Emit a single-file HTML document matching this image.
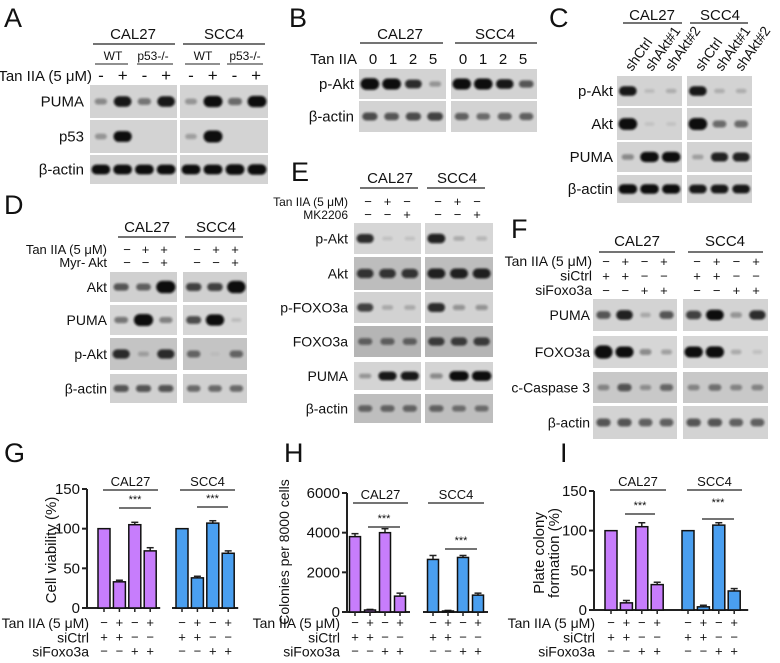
<!DOCTYPE html>
<html><head><meta charset="utf-8">
<style>
html,body{margin:0;padding:0;background:#fff;}
svg{display:block;font-family:"Liberation Sans",Arial,sans-serif;}
</style></head>
<body>
<svg id="fig" width="780" height="663" viewBox="0 0 780 663" xmlns="http://www.w3.org/2000/svg">
<defs><filter id="blur" x="-20%" y="-50%" width="140%" height="200%"><feGaussianBlur stdDeviation="1.1"/></filter></defs>
<g id="layer"></g>
</svg>
<script>
// ---------- chart data ----------
const gCal=[100,33,105,72];
const gCalErr=[0,2,3,4];
const gScc=[100,38,107,69];
const gSccErr=[0,2,3,3];
const hCal=[3800,100,4000,800];
const hCalErr=[150,30,200,150];
const hScc=[2650,50,2750,850];
const hSccErr=[200,30,100,100];
const iCal=[100,9,105,32];
const iCalErr=[0,3,5,3];
const iScc=[100,4,107,24];
const iSccErr=[0,2,3,3];
const gTicks=[0,50,100,150];
const hTicks=[0,2000,4000,6000];
const iTicks=[0,50,100,150];
const tanRow=['−','+','−','+'];
const siCtrlRow=['+','+','−','−'];
const siFoxoRow=['−','−','+','+'];
const cellLines=['CAL27','SCC4'];

const NS='http://www.w3.org/2000/svg';
const L=document.getElementById('layer');
function el(tag,attrs,parent){const e=document.createElementNS(NS,tag);for(const k in attrs)e.setAttribute(k,attrs[k]);(parent||L).appendChild(e);return e;}
function txt(x,y,s,size,anchor,name,extra){
  const t=el('text',Object.assign({x:x,y:y,'font-size':size,'text-anchor':anchor||'middle',fill:'#111'},extra||{}));
  t.textContent=s;
  
  
  return t;
}
function line(x1,y1,x2,y2,name,w){
  const l=el('line',{x1:x1,y1:y1,x2:x2,y2:y2,stroke:'#222','stroke-width':w||1.2});
  
  
  return l;
}
function letter(x,y,s){txt(x,y,s,27,'start','panel-label-'+s.toLowerCase());}

// ---------- blots ----------
function blot(name,x0,x1,rows){
  const n=rows.lanes[0].length;
  rows.y.forEach((yy,ri)=>{
    const g=el('g',{});
    
    
    const bg=(rows.bg&&rows.bg[ri])||'#d3d3d3';
    el('rect',{x:x0,y:yy[0],width:x1-x0,height:yy[1]-yy[0],fill:bg},g);
    const lw=(x1-x0)/n, cy=(yy[0]+yy[1])/2, rh=yy[1]-yy[0];
    rows.lanes[ri].forEach((v,i)=>{
      if(v<=0)return;
      const cx=x0+(i+0.5)*lw;
      const w=lw*0.82*Math.min(1.05,0.5+0.55*v);
      const h=rh*(0.1+0.24*Math.min(v,1.3));
      const b=el('rect',{x:cx-w/2,y:cy-h/2,width:w,height:h,rx:h/2,fill:'#0c0c0c',opacity:Math.min(1,v*1.05),filter:'url(#blur)'},g);
      
      
    });
  });
}
function rowLabels(x,rows,size){rows.y.forEach((yy,i)=>txt(x,(yy[0]+yy[1])/2+5,rows.labels[i],size||15,'end','row-label'));}

// Panel A
letter(4,27,'A');
txt(133,39,'CAL27',15,'middle','header-cal27');txt(224,39,'SCC4',15,'middle','header-scc4');
line(93,44,175,44,'header-line');line(183,44,265,44,'header-line');
[[113,95,128,'WT'],[153,137,173,'p53-/-'],[203,185,220,'WT'],[245,227,263,'p53-/-']].forEach(a=>{txt(a[0],60,a[3],12,'middle','genotype');line(a[1],64,a[2],64,'genotype-line',1);});
txt(92,81,'Tan IIA (5 μM)',15,'end','treatment-label');
['-','+','-','+'].forEach((s,i)=>{txt(101+i*21.7,81,s,17,'middle','sign');txt(191+i*21.7,81,s,17,'middle','sign');});
const aRows={y:[[85,118],[120,153],[155,184]],names:['puma','p53','actin'],labels:['PUMA','p53','β-actin']};
rowLabels(84,aRows);
blot('blot-a-cal27',90,177,Object.assign({lanes:[[0.35,0.9,0.45,0.9],[0.3,0.95,0,0],[1,1,1,1]]},aRows));
blot('blot-a-scc4',180,268,Object.assign({lanes:[[0.3,1,0.5,1],[0.25,1.1,0,0],[1,1,1.1,1.1]]},aRows));

// Panel B
letter(289,27,'B');
txt(400,39,'CAL27',15,'middle','header-cal27');txt(495,39,'SCC4',15,'middle','header-scc4');
line(360,43,443,43,'header-line');line(455,43,537,43,'header-line');
txt(357,64,'Tan IIA',15,'end','treatment-label');
['0','1','2','5'].forEach((s,i)=>{txt(373+i*20,64,s,15,'middle','dose');txt(463+i*20,64,s,15,'middle','dose');});
const bRows={y:[[69,99],[101,132]],names:['pakt','actin'],labels:['p-Akt','β-actin']};
rowLabels(354,bRows);
blot('blot-b-cal27',359,446,Object.assign({lanes:[[1.2,1.1,0.8,0.3],[0.65,0.6,0.65,0.7]]},bRows));
blot('blot-b-scc4',451,537,Object.assign({lanes:[[1.1,1.1,0.9,0.6],[0.55,0.5,0.55,0.55]]},bRows));

// Panel C
letter(549,27,'C');
txt(652,20,'CAL27',15,'middle','header-cal27');txt(720,20,'SCC4',15,'middle','header-scc4');
line(623,23,682,23,'header-line');line(690,23,748,23,'header-line');
['shCtrl','shAkt#1','shAkt#2'].forEach((s,i)=>{
  txt(632+i*20,72,s,14,'start','sh-label',{transform:'rotate(-55 '+(632+i*20)+' 72)'});
  txt(702+i*20,72,s,14,'start','sh-label',{transform:'rotate(-55 '+(702+i*20)+' 72)'});
});
const cRows={y:[[76,106],[108,140],[142,172],[175,203]],names:['pakt','akt','puma','actin'],labels:['p-Akt','Akt','PUMA','β-actin']};
rowLabels(613,cRows);
blot('blot-c-cal27',617,682,Object.assign({lanes:[[0.9,0.12,0.18],[1.1,0.08,0.08],[0.35,1,1],[1,1,0.95]]},cRows));
blot('blot-c-scc4',687,752,Object.assign({lanes:[[0.9,0.18,0.18],[1.15,0.5,0.5],[0.25,0.85,0.85],[0.9,0.9,0.9]]},cRows));

// Panel D
letter(4,214,'D');
txt(147,232,'CAL27',15,'middle','header-cal27');txt(216,232,'SCC4',15,'middle','header-scc4');
line(118,237,176,237,'header-line');line(185,237,243,237,'header-line');
txt(107,254,'Tan IIA (5 μM)',13,'end','treatment-label');txt(107,267,'Myr- Akt',13,'end','treatment-label');
[['−','+','+'],['−','−','+']].forEach((r,ri)=>r.forEach((s,i)=>{txt(127+i*18.5,254+ri*13,s,13,'middle','sign');txt(197+i*19,254+ri*13,s,13,'middle','sign');}));
const dRows={y:[[272,302],[305,335],[338,370],[374,403]],names:['akt','puma','pakt','actin'],labels:['Akt','PUMA','p-Akt','β-actin'],bg:['#d0d0d0','#d6d6d6','#c4c4c4','#d0d0d0']};
rowLabels(107,dRows,14);
blot('blot-d-cal27',110,177,Object.assign({lanes:[[0.6,0.55,1.35],[0.45,1.25,0.4],[0.8,0.2,0.8],[0.6,0.6,0.6]]},dRows));
blot('blot-d-scc4',183,247,Object.assign({lanes:[[0.7,0.7,1.35],[0.65,1.15,0.12],[0.5,0.05,0.5],[0.5,0.5,0.5]]},dRows));

// Panel E
letter(291,181,'E');
txt(390,183,'CAL27',15,'middle','header-cal27');txt(457,183,'SCC4',15,'middle','header-scc4');
line(360,188,418,188,'header-line');line(427,188,485,188,'header-line');
txt(348,206,'Tan IIA (5 μM)',12,'end','treatment-label');txt(348,219,'MK2206',12,'end','treatment-label');
[['−','+','−'],['−','−','+']].forEach((r,ri)=>r.forEach((s,i)=>{txt(368+i*19.5,206+ri*13,s,13,'middle','sign');txt(438+i*19.5,206+ri*13,s,13,'middle','sign');}));
const eRows={y:[[223,254],[257,290],[292,323],[326,357],[362,390],[394,423]],names:['pakt','akt','pfoxo3a','foxo3a','puma','actin'],labels:['p-Akt','Akt','p-FOXO3a','FOXO3a','PUMA','β-actin'],bg:['#d6d6d6','#bdbdbd','#d2d2d2','#b5b5b5','#d4d4d4','#bebebe']};
rowLabels(348,eRows,14);
blot('blot-e-cal27',354,421,Object.assign({lanes:[[0.8,0.1,0.1],[0.75,0.75,0.75],[0.7,0.2,0.2],[0.5,0.5,0.5],[0.3,0.9,0.9],[0.5,0.5,0.5]]},eRows));
blot('blot-e-scc4',425,493,Object.assign({lanes:[[0.85,0.2,0.15],[0.85,0.85,0.85],[0.8,0.3,0.3],[0.7,0.7,0.7],[0.35,1.05,1.05],[0.5,0.45,0.45]]},eRows));

// Panel F
letter(511,238,'F');
txt(637,246,'CAL27',15,'middle','header-cal27');txt(725,246,'SCC4',15,'middle','header-scc4');
line(599,252,675,252,'header-line');line(688,252,763,252,'header-line');
const fLab=['Tan IIA (5 μM)','siCtrl','siFoxo3a'];
[tanRow,siCtrlRow,siFoxoRow].forEach((r,ri)=>{
  txt(592,266+ri*14.5,fLab[ri],14,'end','treatment-label');
  r.forEach((s,i)=>{txt(606+i*19.3,266+ri*14.5,s,13,'middle','sign');txt(697+i*19.7,266+ri*14.5,s,13,'middle','sign');});
});
const fRows={y:[[299,331],[336,368],[372,403],[406,439]],names:['puma','foxo3a','ccasp3','actin'],labels:['PUMA','FOXO3a','c-Caspase 3','β-actin'],bg:['#d3d3d3','#d6d6d6','#c8c8c8','#d3d3d3']};
rowLabels(590,fRows,14);
blot('blot-f-cal27',593,677,Object.assign({lanes:[[0.6,0.85,0.2,0.6],[1.3,1,0.35,0.25],[0.35,0.6,0.3,0.5],[0.6,0.6,0.55,0.55]]},fRows));
blot('blot-f-scc4',683,768,Object.assign({lanes:[[0.7,0.95,0.3,0.8],[1,1.05,0.2,0.1],[0.35,0.45,0.35,0.35],[0.6,0.6,0.55,0.55]]},fRows));

// ---------- bar charts ----------
function chart(p,cal,calErr,scc,sccErr,ticks){
  const max=ticks[ticks.length-1];
  const ys=v=>p.y0-v/max*(p.y0-p.y1);
  line(p.ax,p.y1,p.ax,p.y0,p.id+'-y-axis',2);
  ticks.forEach(t=>{line(p.ax-5,ys(t),p.ax,ys(t),p.id+'-y-tick',2);txt(p.ax-7,ys(t)+5,String(t),15,'end',p.id+'-y-tick-label');});
  if(p.gap){line(p.ax,p.y0,p.g1+3*p.sp+10,p.y0,p.id+'-x-axis',2);line(p.g2-10,p.y0,p.g2+3*p.sp+10,p.y0,p.id+'-x-axis',2);}
  else line(p.ax,p.y0,p.g2+3*p.sp+14,p.y0,p.id+'-x-axis',2);
  [[cal,calErr,p.g1,'#c77dfc','cal27'],[scc,sccErr,p.g2,'#4a9ff0','scc4']].forEach(g=>{
    g[0].forEach((v,i)=>{
      const cx=g[2]+i*p.sp, y=ys(v);
      if(g[1][i]>0){line(cx,ys(v+g[1][i]),cx,y,p.id+'-error-bar',1.5);line(cx-3.5,ys(v+g[1][i]),cx+3.5,ys(v+g[1][i]),p.id+'-error-cap',1.5);}
      const r=el('rect',{x:cx-p.bw/2,y:y,width:p.bw,height:Math.max(0.5,p.y0-y),fill:g[3],stroke:'#111','stroke-width':1.5});
      
      
      line(cx,p.y0,cx,p.y0+4,p.id+'-x-tick',1.5);
    });
    [tanRow,siCtrlRow,siFoxoRow].forEach((r,ri)=>r.forEach((s,i)=>txt(g[2]+i*p.sp,p.rowY+ri*14.3,s,13,'middle',p.id+'-sign')));
  });
  fLab.forEach((s,ri)=>txt(p.labX,p.rowY+ri*14.3+1,s,14,'end',p.id+'-row-label'));
  cellLines.forEach((c,k)=>{const h=p.hdr[k];txt((h[0]+h[1])/2,p.hy-4,c,13,'middle',p.id+'-header');line(h[0],p.hy,h[1],p.hy,p.id+'-header-line',1.3);});
  p.sig.forEach((s,k)=>{txt((s[0]+s[1])/2,s[3],'***',11,'middle',p.id+'-significance');line(s[0],s[2],s[1],s[2],p.id+'-significance-line',1.3);});
}
letter(4,462,'G');letter(284,462,'H');letter(560,462,'I');
chart({id:'g',ax:87,y0:608,y1:489,g1:104,g2:182,sp:15.4,bw:12,gap:true,rowY:627,labX:89,hy:490,hdr:[[103,158],[180,235]],sig:[[119,151,508,503],[197,228,507,502]]},gCal,gCalErr,gScc,gSccErr,gTicks);
chart({id:'h',ax:347,y0:612,y1:493,g1:355,g2:433,sp:15,bw:11,gap:true,rowY:627,labX:340,hy:503,hdr:[[353,408],[428,484]],sig:[[368,400,527,522],[445,477,549,544]]},hCal,hCalErr,hScc,hSccErr,hTicks);
chart({id:'i',ax:594,y0:610,y1:491,g1:611,g2:688,sp:15.4,bw:12,gap:false,rowY:627,labX:595,hy:490,hdr:[[610,666],[687,742]],sig:[[625,655,514,509],[702,734,519,506]]},iCal,iCalErr,iScc,iSccErr,iTicks);
txt(56,550,'Cell viability (%)',15,'middle','g-y-axis-title',{transform:'rotate(-90 56 550)'});
txt(289,552,'Colonies per 8000 cells',14,'middle','h-y-axis-title',{transform:'rotate(-90 289 552)'});
txt(544,553,'Plate colony',15,'middle','i-y-axis-title',{transform:'rotate(-90 544 553)'});
txt(559,553,'formation (%)',15,'middle','i-y-axis-title-2',{transform:'rotate(-90 559 553)'});
</script>
</body></html>
